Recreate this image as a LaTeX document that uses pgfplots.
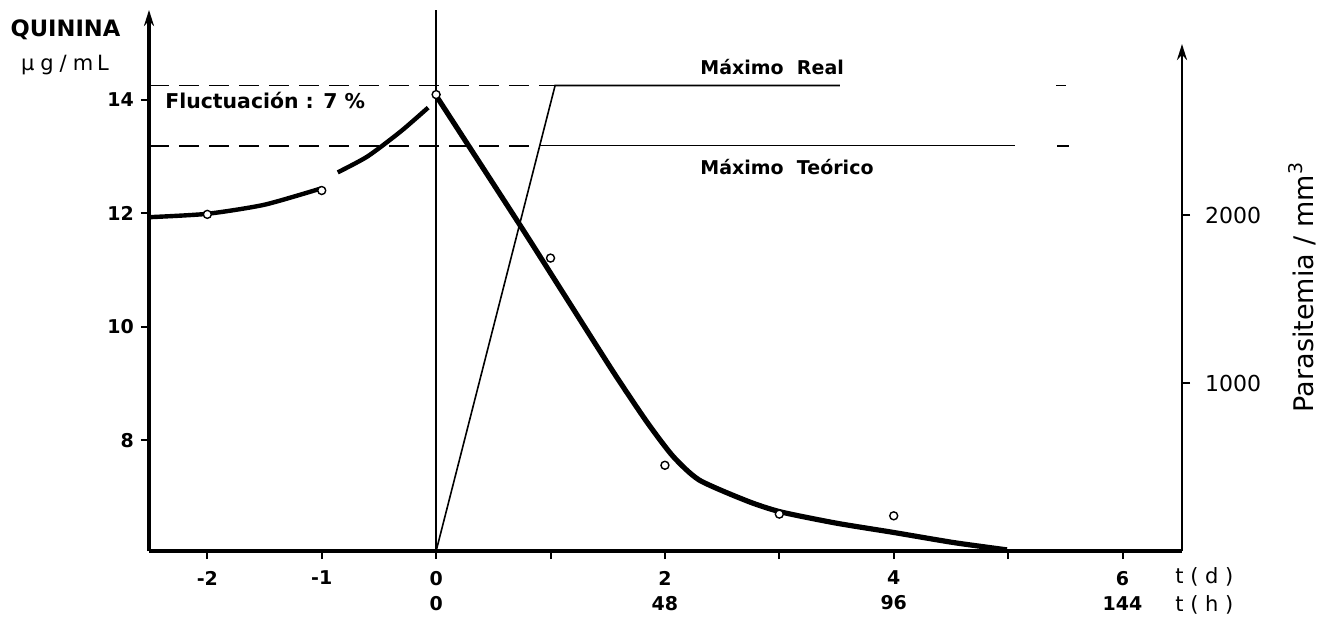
\documentclass[border=0pt]{standalone}
\usepackage{fontspec}
\setmainfont{DejaVu Sans}
\usepackage{pgfplots}
\pgfplotsset{compat=1.18}
\usetikzlibrary{arrows.meta}
\begin{document}
\begin{tikzpicture}
\useasboundingbox (-74.5pt,-33pt) rectangle (585.5pt,275.5pt);
\begin{axis}[
  at={(0pt,0pt)}, anchor=south west,
  scale only axis, width=516.5pt, height=270.5pt,
  xmin=-2.51, xmax=6.52, ymin=6.05, ymax=15.58,
  axis x line=bottom, axis y line=left,
  x axis line style={-, line width=1.8pt},
  y axis line style={-{Stealth[length=8pt,width=5pt]}, line width=1.6pt},
  tick align=outside, major tick length=4pt,
  major tick style={black, line width=1pt},
  xtick={-2,-1,0,1,2,3,4,5,6},
  xticklabels={{-2},{-1},{0\\0},{},{2\\48},{},{4\\96},{},{6\\144}},
  xticklabel style={align=center, font=\bfseries\fontsize{9.5}{12.5}\selectfont, anchor=north, yshift=-2.5pt},
  ytick={8,10,12,14}, yticklabels={8,10,12,14},
  yticklabel style={font=\bfseries\fontsize{9.5}{11}\selectfont},
  clip=false,
]
% vertical line at t=0
\addplot[black, line width=0.8pt] coordinates {(0,6.05) (0,15.58)};
% Maximo Real
\addplot[black, line width=0.9pt, dash pattern=on 10pt off 5pt] coordinates {(-2.51,14.25) (1.04,14.25)};
\addplot[black, line width=0.9pt] coordinates {(5.42,14.25) (5.51,14.25)};
% Maximo Teorico
\addplot[black, line width=0.9pt, dash pattern=on 10pt off 5pt] coordinates {(-2.51,13.19) (0.91,13.19)};
\addplot[black, line width=0.7pt] coordinates {(0.91,13.19) (5.06,13.19)};
\addplot[black, line width=0.9pt] coordinates {(5.43,13.19) (5.53,13.19)};
% thin rising line
\addplot[black, line width=0.8pt] coordinates {(0,6.05) (1.04,14.25) (3.53,14.25)};
% curve segments before t=0
\addplot[black, line width=2.2pt, smooth, tension=0.4] coordinates {(-2.51,11.93) (-2.0,11.99) (-1.5,12.15) (-1.0,12.44)};
\addplot[black, line width=2.2pt, smooth, tension=0.4] coordinates {(-0.86,12.72) (-0.60,13.0) (-0.31,13.44) (-0.07,13.86)};
% main decreasing curve
\addplot[black, line width=2.6pt, smooth, tension=0.4] coordinates {(0,14.07) (0.73,11.8) (1.14,10.5) (1.55,9.2) (1.84,8.33) (2.07,7.72) (2.3,7.30) (2.72,6.93) (3.01,6.74) (3.5,6.54) (3.99,6.38) (4.52,6.2) (4.99,6.07)};
% data points
\addplot[only marks, mark=*, mark size=2pt, mark options={fill=white, draw=black, line width=0.7pt}] coordinates {(-2,11.98) (-1,12.40) (0,14.09) (1,11.21) (2,7.56) (3,6.70) (4,6.67)};
\end{axis}
\begin{axis}[
  at={(0pt,0pt)}, anchor=south west,
  scale only axis, width=516.5pt, height=253.5pt,
  xmin=-2.51, xmax=6.52, ymin=0, ymax=3018,
  axis x line=none, axis y line=right,
  y axis line style={-{Stealth[length=8pt,width=5pt]}, line width=1.3pt},
  tick align=outside, major tick length=4pt,
  major tick style={black, line width=1pt},
  xtick=\empty,
  ytick={1000,2000}, yticklabels={1000,2000},
  yticklabel style={font=\fontsize{11}{12}\selectfont, xshift=4pt},
]
\addplot[draw=none] coordinates {(0,0)};
\end{axis}
\node[font=\bfseries\fontsize{11.3}{12}\selectfont] at (-41.75pt,260.75pt) {QUININA};
\node[font=\fontsize{10.5}{12}\selectfont] at (-42pt,243pt) {µ\hspace{3pt}g\hspace{3pt}/\hspace{3pt}m\hspace{2pt}L};
\node[anchor=west, font=\bfseries\fontsize{10.2}{12}\selectfont, inner sep=0pt] at (8pt,225.5pt) {Fluctuación : 7 \%};
\node[anchor=west, font=\bfseries\fontsize{9.5}{12}\selectfont, inner sep=0pt] at (275.5pt,242pt) {Máximo\ \ Real};
\node[anchor=west, font=\bfseries\fontsize{9.5}{12}\selectfont, inner sep=0pt] at (275.5pt,192pt) {Máximo\ \ Teórico};
\node[rotate=90, font=\fontsize{13.5}{15}\selectfont] at (576.5pt,132pt) {Parasitemia / mm\textsuperscript{3}};
\node[anchor=west, font=\fontsize{10.5}{12}\selectfont, inner sep=0pt] at (513pt,-13pt) {t ( d )};
\node[anchor=west, font=\fontsize{10.5}{12}\selectfont, inner sep=0pt] at (513pt,-27pt) {t ( h )};
\end{tikzpicture}
\end{document}
